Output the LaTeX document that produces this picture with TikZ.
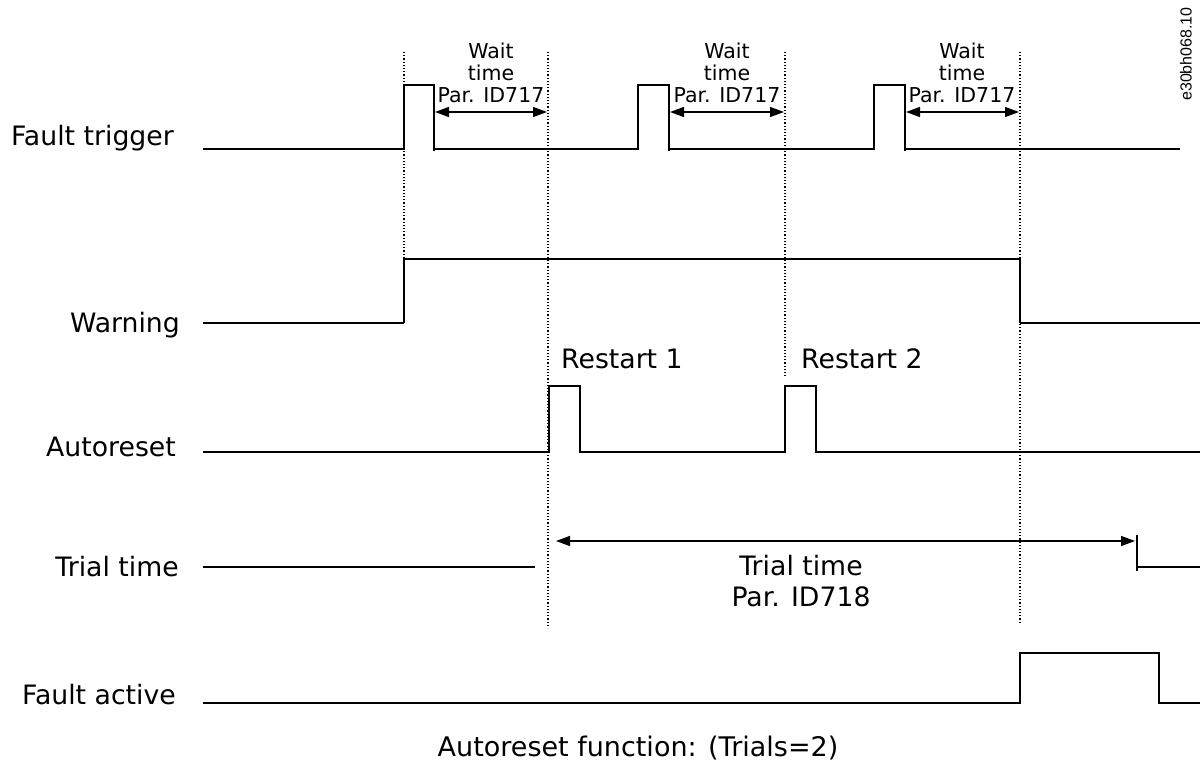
\documentclass[tikz,border=0pt]{standalone}
\usepackage{fontspec}
\setmainfont{DejaVu Sans}
\newfontfamily\codefont{Liberation Sans}
\usetikzlibrary{arrows.meta}
\begin{document}
\begin{tikzpicture}[x=1pt,y=-1pt,
  sig/.style={line width=1.3pt, line join=miter},
  sigthick/.style={line width=2.8pt},
  guide/.style={line width=1.2pt, dotted},
  dim/.style={line width=1.4pt, {Triangle[length=14pt,width=10pt]}-{Triangle[length=14pt,width=10pt]}},
  rowlabel/.style={anchor=base east, font=\fontsize{26.7}{32}\selectfont, inner sep=0pt},
  small/.style={align=center, font=\fontsize{20.5}{22}\selectfont, inner sep=0pt},
  big/.style={font=\fontsize{26.7}{32}\selectfont, inner sep=0pt}]
\useasboundingbox (0,0) rectangle (1200,770);
\fill[white] (0,0) rectangle (1200,770);

% row labels
\node[rowlabel] (lft) at (174,146) {Fault trigger};
\node[rowlabel] (lw) at (180,332) {Warning};
\node[rowlabel] (la) at (176,456) {Autoreset};
\node[rowlabel] (lt) at (179,576) {Trial time};
\node[rowlabel] (lfa) at (176,704) {Fault active};

% guides
\draw[guide] (404,52) -- (404,259);
\draw[guide] (548,52) -- (548,628);
\draw[guide] (785,52) -- (785,378);
\draw[guide] (1020,52) -- (1020,622);

% fault trigger
\draw[sig] (203,149) -- (404,149) -- (404,85) -- (434,85) -- (434,151) -- (434,149) -- (638,149) -- (638,85) -- (669,85) -- (669,151) -- (669,149) -- (874,149) -- (874,85) -- (905,85) -- (905,151) -- (905,149) -- (1180,149);

% wait time
\coordinate (w1a) at (435,112); \coordinate (w1b) at (547,112);
\coordinate (w2a) at (670,112); \coordinate (w2b) at (784,112);
\coordinate (w3a) at (906,112); \coordinate (w3b) at (1019,112);
\draw[dim] (w1a) -- (w1b);
\draw[dim] (w2a) -- (w2b);
\draw[dim] (w3a) -- (w3b);
\node[small, anchor=base] (wt1) at (491,103) {Wait\\time\\Par. ID717};
\node[small, anchor=base] (wt2) at (727,103) {Wait\\time\\Par. ID717};
\node[small, anchor=base] (wt3) at (962,103) {Wait\\time\\Par. ID717};

% warning
\draw[sigthick] (203,323) -- (404,323);
\draw[sig] (404,323) -- (404,259) -- (1020,259) -- (1020,323);
\draw[sigthick] (1020,323) -- (1200,323);

% autoreset
\draw[sig] (203,452) -- (549,452) -- (549,386) -- (580,386) -- (580,452) -- (785,452) -- (785,386) -- (816,386) -- (816,452) -- (1200,452);
\node[big, anchor=base west] (r1) at (561,368) {Restart 1};
\node[big, anchor=base west] (r2) at (801,368) {Restart 2};

% trial time
\draw[sig] (203,567) -- (535,567);
\draw[sig] (1137,535) -- (1137,571);
\draw[sig] (1137,567) -- (1200,567);
\coordinate (ta) at (556,541); \coordinate (tb) at (1135,541);
\draw[dim] (ta) -- (tb);
\node[big, anchor=base] (tt1) at (801,575) {Trial time};
\node[big, anchor=base] (tt2) at (801,606) {Par. ID718};

% fault active
\draw[sig] (203,703) -- (1020,703) -- (1020,653) -- (1159,653) -- (1159,703) -- (1200,703);

% caption
\node[font=\fontsize{27}{32}\selectfont, inner sep=0pt, anchor=base] (cap) at (638,756) {Autoreset function: (Trials=2)};

% code
\node[rotate=90, font=\codefont\fontsize{16}{19}\selectfont, inner sep=0pt] (code) at (1186,54) {e30bh068.10};
\end{tikzpicture}
\end{document}
